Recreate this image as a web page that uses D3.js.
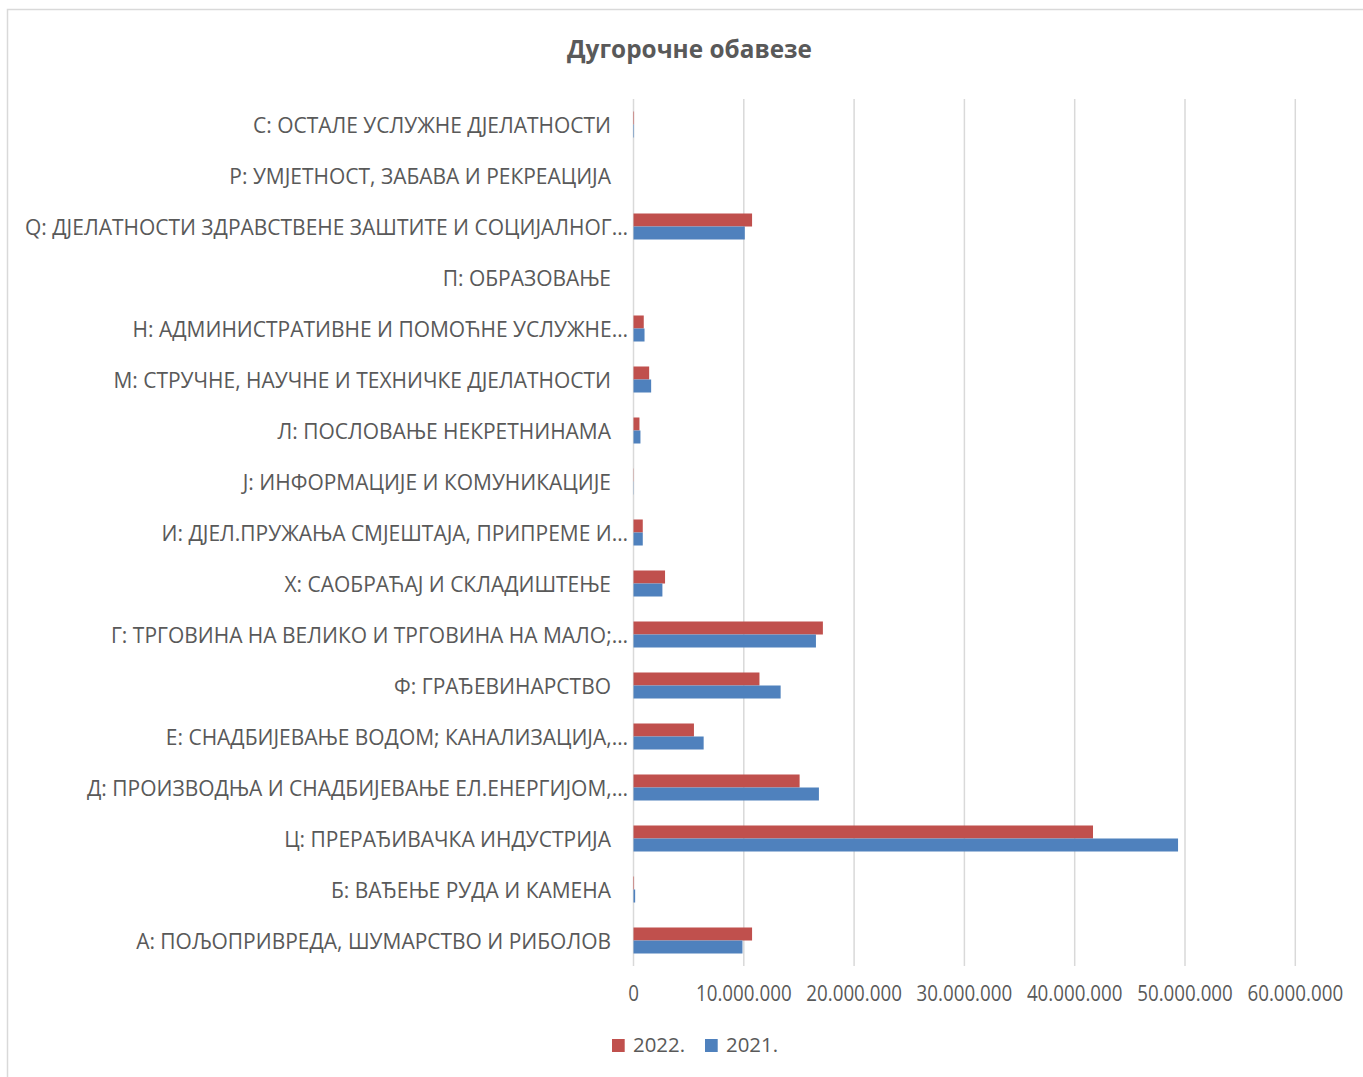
<!DOCTYPE html>
<html><head><meta charset="utf-8">
<script src="https://cdn.jsdelivr.net/npm/d3@7"></script>
<style>
html,body{margin:0;padding:0;background:#fff;}
svg{display:block;}
text{font-family:"Open Sans","Noto Sans","DejaVu Sans",sans-serif;fill:#595959;}
</style></head>
<body>
<svg id="c" width="1363" height="1077"></svg>
<script>
const title = "Дугорочне обавезе";
const categories = [
  "С: ОСТАЛЕ УСЛУЖНЕ ДЈЕЛАТНОСТИ",
  "Р: УМЈЕТНОСТ, ЗАБАВА И РЕКРЕАЦИЈА",
  "Q: ДЈЕЛАТНОСТИ ЗДРАВСТВЕНЕ ЗАШТИТЕ И СОЦИЈАЛНОГ…",
  "П: ОБРАЗОВАЊЕ",
  "Н: АДМИНИСТРАТИВНЕ И ПОМОЋНЕ УСЛУЖНЕ…",
  "М: СТРУЧНЕ, НАУЧНЕ И ТЕХНИЧКЕ ДЈЕЛАТНОСТИ",
  "Л: ПОСЛОВАЊЕ НЕКРЕТНИНАМА",
  "Ј: ИНФОРМАЦИЈЕ И КОМУНИКАЦИЈЕ",
  "И: ДЈЕЛ.ПРУЖАЊА СМЈЕШТАЈА, ПРИПРЕМЕ И…",
  "Х: САОБРАЋАЈ И СКЛАДИШТЕЊЕ",
  "Г: ТРГОВИНА НА ВЕЛИКО И ТРГОВИНА НА МАЛО;…",
  "Ф: ГРАЂЕВИНАРСТВО",
  "Е: СНАДБИЈЕВАЊЕ ВОДОМ; КАНАЛИЗАЦИЈА,…",
  "Д: ПРОИЗВОДЊА И СНАДБИЈЕВАЊЕ ЕЛ.ЕНЕРГИЈОМ,…",
  "Ц: ПРЕРАЂИВАЧКА ИНДУСТРИЈА",
  "Б: ВАЂЕЊЕ РУДА И КАМЕНА",
  "А: ПОЉОПРИВРЕДА, ШУМАРСТВО И РИБОЛОВ"
];
const seriesNames = ["2022.", "2021."];
const values2022 = [50000, 0, 10750000, 0, 930000, 1420000, 540000, 20000, 840000, 2860000, 17170000, 11420000, 5480000, 15060000, 41660000, 50000, 10750000];
const values2021 = [50000, 0, 10090000, 0, 1000000, 1600000, 630000, 20000, 840000, 2620000, 16540000, 13340000, 6360000, 16810000, 49370000, 150000, 9880000];
const xTicks = [0, 10000000, 20000000, 30000000, 40000000, 50000000, 60000000];
const colors = ["#C0504D", "#4F81BD"];

const svg = d3.select("#c");
const pLeft = 633.5, pRight = 1295.3, pTop = 99, pBottom = 966;

// chart border
svg.append("rect").attr("x", 7.5).attr("y", 9.5).attr("width", 1400).attr("height", 1100)
  .attr("fill", "none").attr("stroke", "#d9d9d9").attr("stroke-width", 1.5);

const x = d3.scaleLinear().domain([0, 60000000]).range([pLeft, pRight]);
const y = d3.scaleBand().domain(categories).range([pTop, pBottom]).paddingInner(0.49).paddingOuter(0.245);
const ySub = d3.scaleBand().domain(seriesNames).range([0, y.bandwidth()]);

// gridlines
svg.append("g").selectAll("line").data(xTicks).join("line")
  .attr("x1", d => x(d)).attr("x2", d => x(d)).attr("y1", pTop).attr("y2", pBottom)
  .attr("stroke", "#d9d9d9").attr("stroke-width", 1.5);

// bars
const rows = categories.map((c, i) => ({c, vals: [values2022[i], values2021[i]]}));
const g = svg.append("g").selectAll("g").data(rows).join("g")
  .attr("transform", d => `translate(0,${y(d.c)})`);
g.selectAll("rect").data(d => d.vals.map((v, j) => ({v, s: seriesNames[j], j}))).join("rect")
  .attr("x", x(0)).attr("y", d => ySub(d.s))
  .attr("width", d => Math.max(0, x(d.v) - x(0))).attr("height", ySub.bandwidth())
  .attr("fill", d => colors[d.j]);

function squeeze(sel, k) {
  sel.each(function() {
    const w = this.getComputedTextLength() * k;
    d3.select(this).attr("textLength", w).attr("lengthAdjust", "spacingAndGlyphs");
  });
}

// category labels
const lab = svg.append("g").selectAll("text").data(categories).join("text")
  .attr("x", d => d.endsWith("…") ? 628 : 611)
  .attr("y", d => y(d) + y.bandwidth() / 2 + 8.7)
  .attr("text-anchor", "end")
  .attr("font-size", 21)
  .text(d => d);
const k = 603 / lab.nodes()[2].getComputedTextLength();
squeeze(lab, k);

// x tick labels
const tl = svg.append("g").selectAll("text").data(xTicks).join("text")
  .attr("x", d => x(d)).attr("y", 1001)
  .attr("text-anchor", "middle").attr("font-size", 21)
  .text(d => d === 0 ? "0" : d3.format(",")(d).replace(/,/g, "."));
const k2 = 95.6 / tl.nodes()[1].getComputedTextLength();
squeeze(tl, k2);

// title
svg.append("text").attr("x", 689.5).attr("y", 58)
  .attr("text-anchor", "middle").attr("font-size", 25).attr("font-weight", "bold").text(title)
  .attr("textLength", 245).attr("lengthAdjust", "spacingAndGlyphs");

// legend
const legX = [612, 705];
const lg = svg.append("g").selectAll("g").data(seriesNames).join("g")
  .attr("transform", (d, i) => `translate(${legX[i]},1039)`);
lg.append("rect").attr("width", 12.7).attr("height", 13).attr("fill", (d, i) => colors[i]);
const lt = lg.append("text").attr("x", 21).attr("y", 13).attr("font-size", 20).text(d => d);
const k3 = 52 / lt.nodes()[0].getComputedTextLength();
squeeze(lt, k3);
</script>
</body></html>
